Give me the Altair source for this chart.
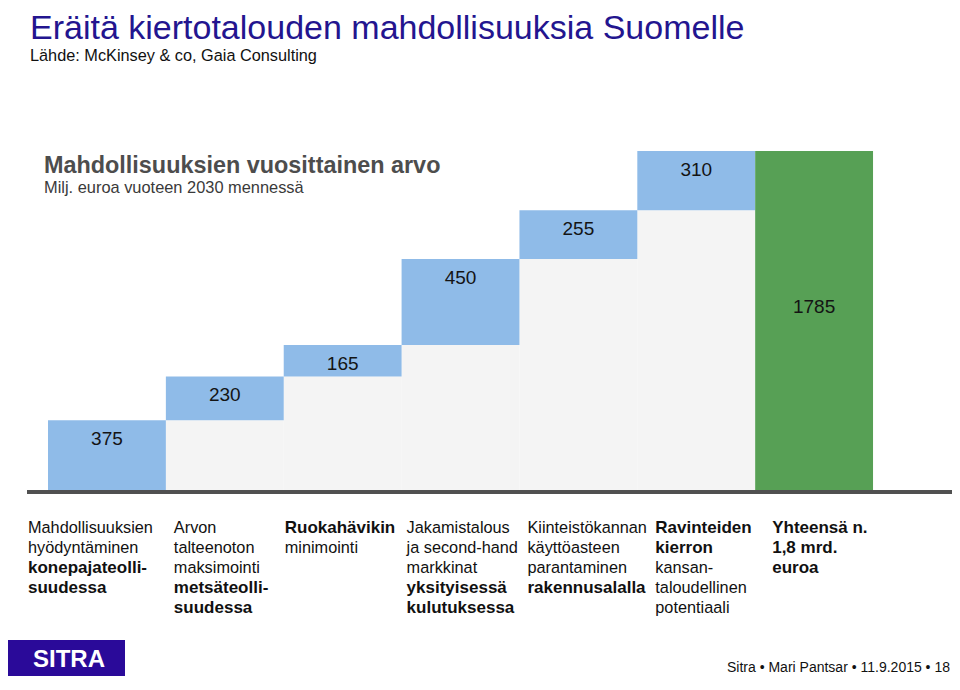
import altair as alt
import pandas as pd

# ---------------- data ----------------
steps = ["Mahdollisuuksien hyödyntäminen konepajateollisuudessa",
         "Arvon talteenoton maksimointi metsäteollisuudessa",
         "Ruokahävikin minimointi",
         "Jakamistalous ja second-hand markkinat yksityisessä kulutuksessa",
         "Kiinteistökannan käyttöasteen parantaminen rakennusalalla",
         "Ravinteiden kierron kansantaloudellinen potentiaali"]
values = [375, 230, 165, 450, 255, 310]
total_label = "Yhteensä n. 1,8 mrd. euroa"
total_value = 1785

# label lines: (text, bold)
label_lines = [
    [("Mahdollisuuksien", False), ("hyödyntäminen", False), ("konepajateolli-", True), ("suudessa", True)],
    [("Arvon", False), ("talteenoton", False), ("maksimointi", False), ("metsäteolli-", True), ("suudessa", True)],
    [("Ruokahävikin", True), ("minimointi", False)],
    [("Jakamistalous", False), ("ja second-hand", False), ("markkinat", False), ("yksityisessä", True), ("kulutuksessa", True)],
    [("Kiinteistökannan", False), ("käyttöasteen", False), ("parantaminen", False), ("rakennusalalla", True)],
    [("Ravinteiden", True), ("kierron", True), ("kansan-", False), ("taloudellinen", False), ("potentiaali", False)],
    [("Yhteensä n.", True), ("1,8 mrd.", True), ("euroa", True)],
]

# ---------------- styles ----------------
BLUE = "#8fbbe8"
GREEN = "#57a055"
GREY = "#f4f4f4"
FONT = "Liberation Sans"
W, H = 944, 668
label_dx = [-20, 8, 1, 5, 8, 18, 17]   # px offset of each label column from its bar's left edge

X_SCALE = alt.Scale(domain=[-0.3394, 7.670], nice=False, zero=False)
Y_SCALE = alt.Scale(domain=[-963.2, 2533.5], nice=False, zero=False)

# ---------------- derived table ----------------
rows = []
cum = 0
for i, (s, v) in enumerate(zip(steps, values)):
    rows.append(dict(idx=i, idx2=i + 1, mid=i + 0.5, start=cum, end=cum + v,
                     value=v, kind="step", name=s))
    cum += v
n = len(steps)
rows.append(dict(idx=n, idx2=n + 1, mid=n + 0.5, start=0, end=total_value,
                 value=total_value, kind="total", name=total_label))
df = pd.DataFrame(rows)
df["half"] = df["end"] / 2

base = alt.Chart(df)

grey = base.transform_filter("datum.kind == 'step'").mark_rect(color=GREY).encode(
    x=alt.X("idx:Q", scale=X_SCALE, axis=None),
    x2="idx2:Q",
    y=alt.Y("start:Q", scale=Y_SCALE, axis=None),
    y2=alt.Y2(datum=0),
)

blue = base.transform_filter("datum.kind == 'step'").mark_rect(color=BLUE).encode(
    x=alt.X("idx:Q", scale=X_SCALE, axis=None),
    x2="idx2:Q",
    y=alt.Y("start:Q", scale=Y_SCALE, axis=None),
    y2="end:Q",
)

green = base.transform_filter("datum.kind == 'total'").mark_rect(color=GREEN).encode(
    x=alt.X("idx:Q", scale=X_SCALE, axis=None),
    x2="idx2:Q",
    y=alt.Y("start:Q", scale=Y_SCALE, axis=None),
    y2="end:Q",
)

blue_txt = base.transform_filter("datum.kind == 'step'").mark_text(
    font=FONT, fontSize=19, color="#141414", baseline="middle", dy=19
).encode(
    x=alt.X("mid:Q", scale=X_SCALE, axis=None),
    y=alt.Y("end:Q", scale=Y_SCALE, axis=None),
    text="value:Q",
)

green_txt = base.transform_filter("datum.kind == 'total'").mark_text(
    font=FONT, fontSize=19, color="#141414", baseline="middle", dy=-14
).encode(
    x=alt.X("mid:Q", scale=X_SCALE, axis=None),
    y=alt.Y("half:Q", scale=Y_SCALE, axis=None),
    text="value:Q",
)

axis_line = alt.Chart(df).mark_rule(color="#505050", strokeWidth=3).encode(
    x=alt.value(19), x2=alt.value(W),
    y=alt.YDatum(0, type="quantitative", scale=Y_SCALE, axis=None),
)

layers = [grey, blue, green, blue_txt, green_txt, axis_line]

# category labels (one text mark per line)
for i, lines in enumerate(label_lines):
    for k, (t, b) in enumerate(lines):
        ldf = pd.DataFrame({"idx": [i], "t": [t]})
        layers.append(
            alt.Chart(ldf).mark_text(
                font=FONT, fontSize=17 if b else 16.3, color="#111111", align="left",
                baseline="middle", dx=label_dx[i], dy=36 + 20 * k,
                fontWeight="bold" if b else "normal",
            ).encode(
                x=alt.X("idx:Q", scale=X_SCALE, axis=None),
                y=alt.YDatum(0, type="quantitative", scale=Y_SCALE, axis=None),
                text="t:N",
            )
        )

one = pd.DataFrame({"a": [0]})

def note(text, x, y, size, color, weight="normal", align="left", font=FONT, baseline="alphabetic"):
    return alt.Chart(one).mark_text(
        text=text, font=font, fontSize=size, color=color, fontWeight=weight,
        align=align, baseline=baseline,
    ).encode(x=alt.value(x), y=alt.value(y))

layers += [
    note("Eräitä kiertotalouden mahdollisuuksia Suomelle", 22, 31, 34, "#23158f"),
    note("Lähde: McKinsey  & co, Gaia Consulting", 22, 53, 16.3, "#111111"),
    note("Mahdollisuuksien vuosittainen arvo", 36, 165, 23.4, "#4d4d4d", weight="bold"),
    note("Milj. euroa vuoteen 2030 mennessä", 36, 185, 16.4, "#3a3a3a"),
]

logo = alt.Chart(one).mark_rect(color="#2a0a99").encode(
    x=alt.value(0), x2=alt.value(117), y=alt.value(632), y2=alt.value(H)
)
layers += [
    logo,
    note("SITRA", 61, 652, 24, "white", weight="bold", align="center", baseline="middle"),
    note("Sitra  •  Mari Pantsar  •  11.9.2015  •  18", 942, 664, 14, "#111111",
         align="right", font="Liberation Sans Narrow, Liberation Sans"),
]

chart = alt.layer(*layers).properties(
    width=W, height=H,
    autosize=alt.AutoSizeParams(type="none"),
    padding=0,
).configure_view(stroke=None)

chart.save("out.html", embed_options={"renderer": "svg", "actions": False})
